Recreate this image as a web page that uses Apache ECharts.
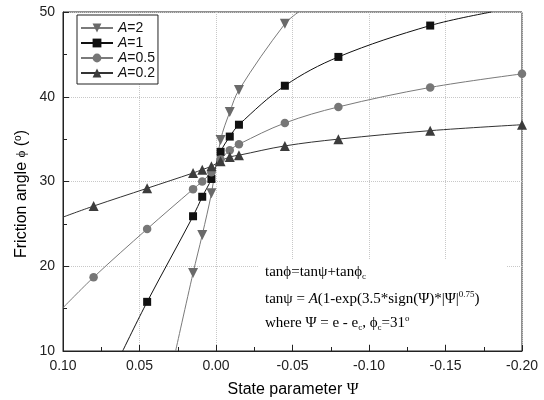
<!DOCTYPE html>
<html>
<head>
  <meta charset="utf-8">
  <title>Friction angle vs state parameter</title>
  <style>
    body { margin: 0; background: #fff; }
    #container { width: 544px; height: 400px; }
  </style>
</head>
<body>
  <div id="container"></div>
  <script src="https://cdn.jsdelivr.net/npm/echarts@6/dist/echarts.min.js"></script>
  <script>
    // State parameter (x) and friction angle (y).
    // The first / last points of some series are only where the curve meets the frame (no marker).
    var psiA2 = [0.0264, 0.015, 0.009, 0.003, -0.003, -0.009, -0.015, -0.045, -0.054];
    var phiA2 = [10, 19.2, 23.7, 28.6, 34.9, 38.2, 40.8, 48.6, 50];
    var bareA2 = [0, 8];

    var psiA1 = [0.061, 0.045, 0.015, 0.009, 0.003, -0.003, -0.009, -0.015, -0.045, -0.08, -0.14, -0.18];
    var phiA1 = [10, 15.8, 25.9, 28.2, 30.3, 33.5, 35.3, 36.7, 41.3, 44.7, 48.4, 50];
    var bareA1 = [0, 11];

    var psiA05 = [0.10, 0.08, 0.045, 0.015, 0.009, 0.003, -0.003, -0.009, -0.015, -0.045, -0.08, -0.14, -0.20];
    var phiA05 = [15.1, 18.7, 24.4, 29.1, 30.0, 31.1, 32.6, 33.7, 34.4, 36.9, 38.8, 41.1, 42.7];
    var bareA05 = [0];

    var psiA02 = [0.10, 0.08, 0.045, 0.015, 0.009, 0.003, -0.003, -0.009, -0.015, -0.045, -0.08, -0.14, -0.20];
    var phiA02 = [25.8, 27.1, 29.2, 31.0, 31.4, 31.8, 32.4, 32.9, 33.1, 34.2, 35.0, 36.0, 36.7];
    var bareA02 = [0];

    var seriesNames = ['A=2', 'A=1', 'A=0.5', 'A=0.2'];

    function points(psi, phi, bare) {
      var out = [];
      for (var i = 0; i < psi.length; i++) {
        var p = { value: [psi[i], phi[i]] };
        if (bare.indexOf(i) >= 0) p.symbol = 'none';
        out.push(p);
      }
      return out;
    }

    function lineSeries(name, data, symbol, size, lineColor, markColor) {
      return {
        name: name,
        type: 'line',
        data: data,
        smooth: 0.35,
        symbol: symbol,
        symbolSize: size,
        showAllSymbol: true,
        lineStyle: { color: lineColor, width: 1 },
        itemStyle: { color: markColor, borderWidth: 0 },
        emphasis: { disabled: true }
      };
    }

    function annRich() {
      var serif = '"Liberation Serif", "Times New Roman", serif';
      return {
        t: { fontFamily: serif, fontSize: 15, color: '#111', lineHeight: 18 },
        it: { fontFamily: serif, fontSize: 15, fontStyle: 'italic', color: '#111', lineHeight: 18 },
        sub: { fontFamily: serif, fontSize: 9, color: '#111', verticalAlign: 'bottom', lineHeight: 9 },
        sup: { fontFamily: serif, fontSize: 9, color: '#111', verticalAlign: 'top', lineHeight: 9 }
      };
    }

    var chart = echarts.init(document.getElementById('container'), null, { renderer: 'canvas' });

    var option = {
      animation: false,
      backgroundColor: '#fff',
      grid: {
        left: 63, right: 22, top: 12, bottom: 49,
        containLabel: false,
        outerBoundsMode: 'none',
        show: true,
        borderColor: '#222',
        borderWidth: 1
      },
      legend: {
        left: 77, top: 15,
        orient: 'vertical',
        itemWidth: 32,
        itemHeight: 11,
        itemGap: 1,
        padding: [6, 3, 4, 3],
        borderColor: '#222',
        borderWidth: 1,
        borderRadius: 0,
        backgroundColor: '#fff',
        data: seriesNames,
        formatter: function (name) { return '{i|A}' + name.slice(1); },
        textStyle: {
          fontFamily: 'Arial, "Liberation Sans", sans-serif',
          fontSize: 14,
          color: '#111',
          rich: { i: { fontStyle: 'italic', fontSize: 14, color: '#111', fontFamily: 'Arial, "Liberation Sans", sans-serif' } }
        }
      },
      xAxis: {
        type: 'value',
        inverse: true,
        min: -0.2,
        max: 0.1,
        interval: 0.05,
        axisLine: { onZero: false, lineStyle: { color: '#222', width: 1 } },
        axisTick: { inside: true, length: 6, lineStyle: { color: '#222' } },
        minorTick: { show: true, splitNumber: 2, length: 4, lineStyle: { color: '#222' } },
        splitLine: { show: true, lineStyle: { color: '#c8c8c8', type: 'dotted', width: 1 } },
        axisLabel: {
          margin: 8,
          fontFamily: 'Arial, "Liberation Sans", sans-serif',
          fontSize: 14,
          color: '#222',
          formatter: function (v) {
            var s = v.toFixed(2);
            return s === '-0.00' ? '0.00' : s;
          }
        }
      },
      yAxis: {
        type: 'value',
        min: 10,
        max: 50,
        interval: 10,
        axisLine: { onZero: false, lineStyle: { color: '#222', width: 1 } },
        axisTick: { inside: true, length: 6, lineStyle: { color: '#222' } },
        minorTick: { show: true, splitNumber: 2, length: 4, lineStyle: { color: '#222' } },
        splitLine: { show: true, lineStyle: { color: '#c8c8c8', type: 'dotted', width: 1 } },
        axisLabel: {
          margin: 8,
          fontFamily: 'Arial, "Liberation Sans", sans-serif',
          fontSize: 14,
          color: '#222'
        }
      },
      graphic: [
        {
          type: 'rect',
          z: 1,
          shape: { x: 259, y: 259, width: 247, height: 85 },
          style: { fill: '#fff' },
          silent: true
        },
        {
          type: 'text',
          z: 3,
          x: 265, y: 272,
          style: {
            text: '{t|tan\u03d5=tan\u03c8+tan\u03d5}{sub|c}',
            verticalAlign: 'middle',
            rich: annRich()
          }
        },
        {
          type: 'text',
          z: 3,
          x: 265, y: 299,
          style: {
            text: '{t|tan\u03c8 = }{it|A}{t|(1-exp(3.5*sign(\u03a8)*|\u03a8|}{sup|0.75}{t|)}',
            verticalAlign: 'middle',
            rich: annRich()
          }
        },
        {
          type: 'text',
          z: 3,
          x: 265, y: 323,
          style: {
            text: '{t|where \u03a8 = e - e}{sub|c}{t|, \u03d5}{sub|c}{t|=31}{sup|o}',
            verticalAlign: 'middle',
            rich: annRich()
          }
        },
        {
          type: 'text',
          z: 3,
          x: 293, y: 390,
          style: {
            text: '{a|State parameter }{g|\u03a8}',
            align: 'center',
            verticalAlign: 'middle',
            rich: {
              a: { fontFamily: 'Arial, "Liberation Sans", sans-serif', fontSize: 16, color: '#222', lineHeight: 18 },
              g: { fontFamily: '"Liberation Serif", "Times New Roman", serif', fontSize: 16, color: '#222', lineHeight: 18 }
            }
          }
        },
        {
          type: 'text',
          z: 3,
          x: 22, y: 194,
          rotation: Math.PI / 2,
          style: {
            text: '{a|Friction angle }{g|\u03d5}{a| (}{sup|o}{a|)}',
            align: 'center',
            verticalAlign: 'middle',
            rich: {
              a: { fontFamily: 'Arial, "Liberation Sans", sans-serif', fontSize: 16, color: '#222', lineHeight: 18 },
              g: { fontFamily: '"Liberation Serif", "Times New Roman", serif', fontSize: 13, color: '#222', lineHeight: 18 },
              sup: { fontFamily: 'Arial, "Liberation Sans", sans-serif', fontSize: 10, color: '#222', verticalAlign: 'top', lineHeight: 12 }
            }
          }
        }
      ],
      series: [
        lineSeries(seriesNames[0], points(psiA2, phiA2, bareA2), 'path://M0,0 L10,0 L5,9 Z', 10, '#7a7a7a', '#6a6a6a'),
        lineSeries(seriesNames[1], points(psiA1, phiA1, bareA1), 'rect', 8, '#111', '#111'),
        lineSeries(seriesNames[2], points(psiA05, phiA05, bareA05), 'circle', 8.5, '#7a7a7a', '#777'),
        lineSeries(seriesNames[3], points(psiA02, phiA02, bareA02), 'triangle', 10, '#333', '#3c3c3c')
      ]
    };

    chart.setOption(option);
    window.addEventListener('resize', chart.resize);
  </script>
</body>
</html>
